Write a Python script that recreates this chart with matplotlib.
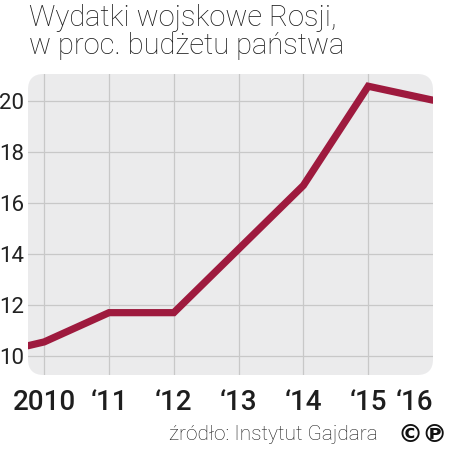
import matplotlib
matplotlib.use("Agg")
import matplotlib.pyplot as plt
from matplotlib.patches import FancyBboxPatch

# Data
years = [2009.75, 2010, 2011, 2012, 2013, 2014, 2015, 2016]
values = [10.4, 10.55, 11.7, 11.7, 14.2, 16.7, 20.6, 20.05]
xtick_years = [2010, 2011, 2012, 2013, 2014, 2015, 2016]
xtick_labels = ["2010", "\u201811", "\u201812", "\u201813", "\u201814", "\u201815", "\u201816"]
yticks = [10, 12, 14, 16, 18, 20]
title = "Wydatki wojskowe Rosji,\nw proc. budżetu państwa"
source = "źródło: Instytut Gajdara"

W = H = 449
fig = plt.figure(figsize=(4.49, 4.49), dpi=100)
fig.patch.set_facecolor("white")

L, R, T, B = 28, 433, 74, 375
ax = fig.add_axes([L / W, 1 - B / H, (R - L) / W, (B - T) / H])
ax.set_facecolor("none")
ax.set_zorder(2)

bg = FancyBboxPatch((L / W, 1 - B / H), (R - L) / W, (B - T) / H,
                    boxstyle="round,pad=0,rounding_size=0.035",
                    transform=fig.transFigure, facecolor="#ebebec",
                    edgecolor="none", zorder=-1)
fig.patches.append(bg)

ax.set_xlim(2009.75, 2016.0)
ax.set_ylim(9.25, 21.08)

for x in xtick_years[:-1]:
    ax.axvline(x, color="#c8c8c8", lw=0.9, zorder=1)
for y in yticks:
    ax.axhline(y, color="#c8c8c8", lw=0.9, zorder=1)

ax.plot(years, values, color="#9e1a3e", lw=5.2, solid_capstyle="round",
        solid_joinstyle="miter", zorder=3)

for s in ax.spines.values():
    s.set_visible(False)

ax.set_yticks(yticks)
ax.set_yticklabels([str(v) for v in yticks], fontsize=16, color="#222222",
                   family=["Roboto", "DejaVu Sans"], fontweight="normal")
ax.set_xticks(xtick_years)
ax.set_xticklabels(xtick_labels, fontsize=20, color="#1e1e1e",
                   family=["Roboto", "DejaVu Sans"], fontweight="medium")
ax.tick_params(axis="both", length=0)
ax.tick_params(axis="y", pad=3)
ax.tick_params(axis="x", pad=10)
lbls = ax.get_xticklabels()
lbls[-1].set_horizontalalignment("right")
lbls[-1].set_x(2016)

fig.text(29 / W, 1 - 4 / H, title, ha="left", va="top", fontsize=21,
         color="#1a1a1a", family=["Roboto", "DejaVu Sans"], fontweight="light",
         linespacing=1.0)

fig.text(378 / W, 1 - 435 / H, source, ha="right", va="center", fontsize=15,
         color="#1a1a1a", family=["Roboto", "DejaVu Sans"], fontweight="light")
fig.text(448 / W, 1 - 435 / H, "©℗", ha="right", va="center", fontsize=18,
         color="#111111", family=["DejaVu Sans"], fontweight="bold")

fig.savefig("out.png", dpi=100)
